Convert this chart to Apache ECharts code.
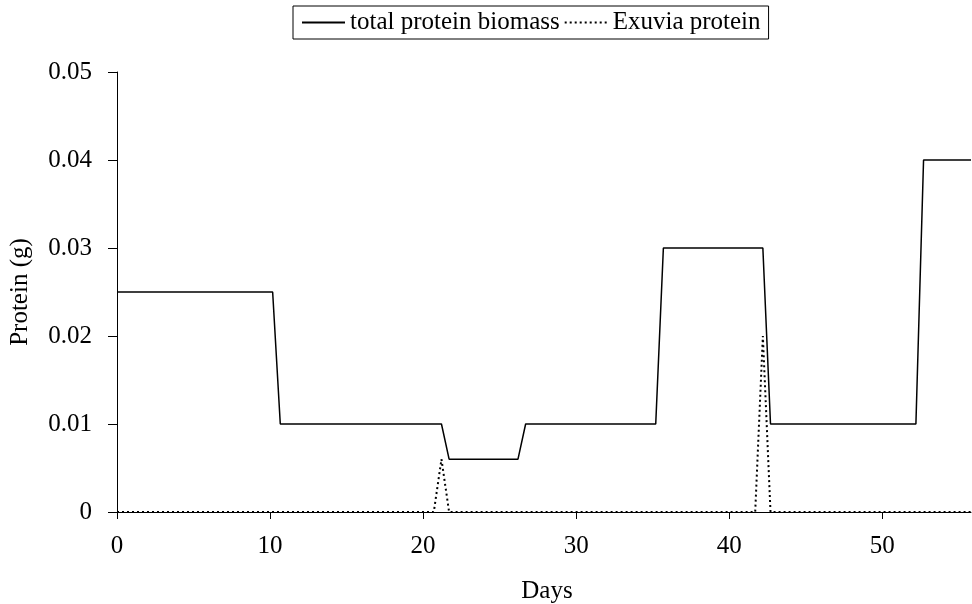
<!DOCTYPE html>
<html>
<head>
<meta charset="utf-8">
<script src="https://cdn.jsdelivr.net/npm/echarts@6/dist/echarts.min.js"></script>
<style>html,body{margin:0;padding:0;background:#fff}#c{width:972px;height:604px}</style>
</head>
<body>
<div id="c"></div>
<script>
// Data
var totalDays    = [0, 10.17, 10.67, 21.2, 21.7, 26.2, 26.7, 35.2, 35.7, 42.2, 42.7, 52.2, 52.7, 55.8];
var totalProtein = [0.025, 0.025, 0.01, 0.01, 0.006, 0.006, 0.01, 0.01, 0.03, 0.03, 0.01, 0.01, 0.04, 0.04];
var exuviaDays    = [0, 20.7, 21.2, 21.7, 41.7, 42.2, 42.7, 55.8];
var exuviaProtein = [0, 0, 0.006, 0, 0, 0.02, 0, 0];
var xTicks = [0, 10, 20, 30, 40, 50];
var yTicks = [0, 0.01, 0.02, 0.03, 0.04, 0.05];
var seriesNames = ['total protein biomass', 'Exuvia protein'];

function pairs(xs, ys) { return xs.map(function (x, i) { return [x, ys[i]]; }); }

var font = 'Liberation Serif';
var chart = echarts.init(document.getElementById('c'));
chart.setOption({
  animation: false,
  backgroundColor: '#fff',
  textStyle: { fontFamily: font, color: '#000' },
  legend: {
    left: 293, top: 6,
    padding: [4, 8],
    itemGap: 4,
    itemWidth: 43, itemHeight: 14,
    borderColor: '#000', borderWidth: 1,
    itemStyle: { opacity: 0 },
    textStyle: { fontFamily: font, fontSize: 25, color: '#000' },
    data: seriesNames
  },
  grid: { left: 117, right: 1, top: 72, bottom: 92, containLabel: false, outerBoundsMode: 'none' },
  xAxis: {
    type: 'value', min: 0, max: 55.8,
    name: 'Days', nameLocation: 'middle', nameGap: 67,
    nameTextStyle: { fontFamily: font, fontSize: 25, color: '#000', padding: [0, 0, 0, 6] },
    axisLine: { show: true, onZero: false, lineStyle: { color: '#000', width: 1 } },
    axisTick: { show: true, inside: false, length: 7, customValues: xTicks, lineStyle: { color: '#000' } },
    axisLabel: { customValues: xTicks, margin: 22, fontFamily: font, fontSize: 25, color: '#000' },
    splitLine: { show: false }
  },
  yAxis: {
    type: 'value', min: 0, max: 0.05, interval: 0.01,
    name: 'Protein (g)', nameLocation: 'middle', nameGap: 84,
    nameTextStyle: { fontFamily: font, fontSize: 25, color: '#000' },
    axisLine: { show: true, lineStyle: { color: '#000', width: 1 } },
    axisTick: { show: true, inside: false, length: 9, customValues: yTicks, lineStyle: { color: '#000' } },
    axisLabel: { customValues: yTicks, margin: 25, fontFamily: font, fontSize: 25, color: '#000',
      formatter: function (v) { return String(+v.toFixed(2)); } },
    splitLine: { show: false }
  },
  series: [
    {
      name: seriesNames[0], type: 'line', symbol: 'none', showSymbol: false,
      data: pairs(totalDays, totalProtein),
      lineStyle: { color: '#000', width: 1.5, type: 'solid' },
      itemStyle: { color: '#000' },
      z: 3
    },
    {
      name: seriesNames[1], type: 'line', symbol: 'none', showSymbol: false,
      data: pairs(exuviaDays, exuviaProtein),
      lineStyle: { color: '#000', width: 2, type: [2, 3] },
      itemStyle: { color: '#000' },
      z: 4
    }
  ]
});
</script>
</body>
</html>
